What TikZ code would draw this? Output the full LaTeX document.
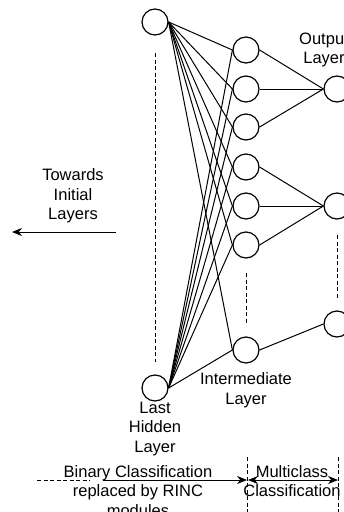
\documentclass[tikz,border=0pt]{standalone}
\usepackage{fontspec}
\setmainfont{Liberation Sans}
\usetikzlibrary{arrows.meta}
\begin{document}
\begin{tikzpicture}[x=1pt, y=-1pt,
    neuron/.style={circle, draw, line width=1.2pt, minimum size=26pt, inner sep=0pt},
    link/.style={line width=1pt},
    dots/.style={line width=1pt, dash pattern=on 4pt off 2.5pt},
    lbl/.style={align=center, inner sep=0pt, font=\fontsize{16.5}{19.5}\selectfont},
    tip/.style={line width=1pt, -{Stealth[length=10pt, width=8pt]}}]
    \clip (0,0) rectangle (344,512);
    % neurons
    \node[neuron] (h1) at (155,22) {};
    \node[neuron] (h2) at (155,388) {};
    \foreach \i/\y in {1/50,2/89,3/127,4/167,5/206,6/245,7/350}
        \node[neuron] (m\i) at (246,\y) {};
    \foreach \i/\y in {1/89,2/206,3/324}
        \node[neuron] (o\i) at (337,\y) {};
    % connections
    \foreach \i in {1,...,7} {
        \draw[link] (h1.east) -- (m\i.west);
        \draw[link] (h2.east) -- (m\i.west);
    }
    \foreach \i in {1,2,3} \draw[link] (m\i.east) -- (o1.west);
    \foreach \i in {4,5,6} \draw[link] (m\i.east) -- (o2.west);
    \draw[link] (m7.east) -- (o3.west);
    % dotted gaps
    \draw[dots] (155,53) -- (155,362);
    \draw[dots] (246,273) -- (246,323);
    \draw[dots] (337,235) -- (337,298);
    % labels
    \node[lbl] (outlbl) at (324,50) {Output\\Layer};
    \node[lbl] (towards) at (73,196) {Towards\\Initial\\Layers};
    \node[lbl] (midlbl) at (246,390) {Intermediate\\Layer};
    \node[lbl] (lastlbl) at (155,429) {Last\\Hidden\\Layer};
    \node[lbl] (binary) at (138,491) {Binary Classification\\replaced by RINC\\modules};
    \node[lbl] (multi) at (292,481) {Multiclass\\Classification};
    % arrows
    \coordinate (backA) at (116,232);
    \coordinate (backB) at (12,232);
    \draw[tip] (backA) -- (backB);
    \coordinate (binA) at (37,480);
    \coordinate (binB) at (90,480);
    \coordinate (binC) at (103,480);
    \coordinate (sepA) at (247,480);
    \coordinate (sepB) at (338,480);
    \draw[dots] (binA) -- (binB);
    \draw[tip] (binC) -- (sepA);
    \draw[tip, {Stealth[length=10pt, width=8pt]}-{Stealth[length=10pt, width=8pt]}] ([xshift=1pt]sepA) -- (sepB);
    \draw[dots] (247,457) -- (247,512);
    \draw[dots] (338,457) -- (338,512);
\end{tikzpicture}
\end{document}
